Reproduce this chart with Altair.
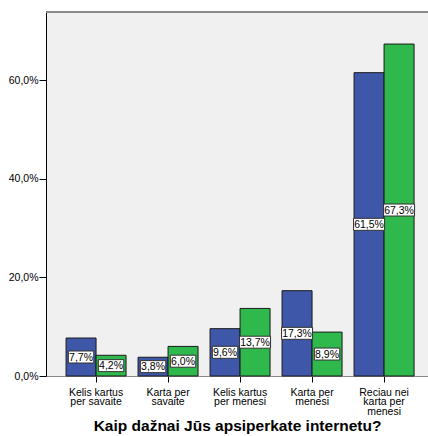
import altair as alt
import pandas as pd

# Survey answers: how often the respondent shops online
categories = [
    "Kelis kartus|per savaite",
    "Karta per|savaite",
    "Kelis kartus|per menesi",
    "Karta per|menesi",
    "Reciau nei|karta per|menesi",
]
group_a = [7.7, 3.8, 9.6, 17.3, 61.5]
group_b = [4.2, 6.0, 13.7, 8.9, 67.3]
groups = ["A", "B"]
y_ticks = [0, 20, 40, 60]

rows = []
for cat, a, b in zip(categories, group_a, group_b):
    rows.append({"cat": cat, "group": groups[0], "pct": a})
    rows.append({"cat": cat, "group": groups[1], "pct": b})
df = pd.DataFrame(rows)

W, H = 382, 364
FONT = "Liberation Sans"

x_enc = alt.X(
    "cat:N",
    sort=categories,
    scale=alt.Scale(paddingInner=0.1667, paddingOuter=0.236, align=0.59),
    axis=alt.Axis(
        title="Kaip dažnai Jūs apsiperkate internetu?",
        titleFont=FONT,
        titleFontSize=15.5,
        titleFontWeight="bold",
        titleColor="black",
        titleBaseline="alphabetic",
        titleY=54,
        labelExpr="split(datum.label, '|')",
        labelAngle=0,
        labelFont=FONT,
        labelFontSize=10.5,
        labelLineHeight=9.6,
        labelColor="black",
        labelPadding=5,
        tickSize=6,
        tickColor="black",
        domainColor="#8a8a8a",
        grid=False,
    ),
)
xoff = alt.XOffset("group:N", sort=groups, scale=alt.Scale(paddingInner=0, paddingOuter=0))
y_scale = alt.Scale(domain=[0, 73.8], nice=False, zero=True)

bars = alt.Chart(df).mark_bar(stroke="#1a1a1a", strokeWidth=1).encode(
    x=x_enc,
    xOffset=xoff,
    y=alt.Y(
        "pct:Q",
        scale=y_scale,
        axis=alt.Axis(
            title=None,
            values=y_ticks,
            labelExpr="replace(format(datum.value, '.1f'), '.', ',') + '%'",
            labelFont=FONT,
            labelFontSize=10.5,
            labelColor="black",
            labelPadding=1,
            tickSize=7,
            tickColor="black",
            domainColor="black",
            grid=False,
        ),
    ),
    color=alt.Color(
        "group:N",
        sort=groups,
        scale=alt.Scale(domain=groups, range=["#3e57a8", "#2fb84b"]),
        legend=None,
    ),
)

# White label boxes centred at half the bar height, sized to the text
boxes = alt.Chart(df).transform_calculate(
    mid="datum.pct / 2",
    label="replace(format(datum.pct, '.1f'), '.', ',') + '%'",
    bw="5.6 * length(datum.label) + 3",
    bsize="datum.bw * datum.bw",
    bshape="'M-1,' + (-12 / datum.bw) + 'H1V' + (12 / datum.bw) + 'H-1Z'",
).mark_point(filled=True, fill="white", stroke="#333333", strokeWidth=1, opacity=1).encode(
    x=alt.X("cat:N", sort=categories),
    xOffset=xoff,
    y=alt.Y("mid:Q", scale=y_scale),
    size=alt.Size("bsize:Q", scale=None),
    shape=alt.Shape("bshape:N", scale=None),
)

texts = alt.Chart(df).transform_calculate(
    mid="datum.pct / 2",
    label="replace(format(datum.pct, '.1f'), '.', ',') + '%'",
).mark_text(font=FONT, fontSize=10.5, color="black", baseline="middle", dy=0.5).encode(
    x=alt.X("cat:N", sort=categories),
    xOffset=xoff,
    y=alt.Y("mid:Q", scale=y_scale),
    text="label:N",
)

top_line = alt.Chart(df).mark_rule(color="#8a8a8a", strokeWidth=1).encode(
    x=alt.value(0), x2=alt.value(W), y=alt.value(0)
)

chart = (
    alt.layer(bars, boxes, texts, top_line)
    .properties(
        width=W,
        height=H,
        autosize=alt.AutoSizeParams(type="none"),
        padding={"left": 46, "top": 12, "right": 0, "bottom": 60},
        background="white",
    )
    .configure_view(stroke=None, fill="#f0f0f0")
)

chart.save("out.html", embed_options={"renderer": "svg", "actions": False})
